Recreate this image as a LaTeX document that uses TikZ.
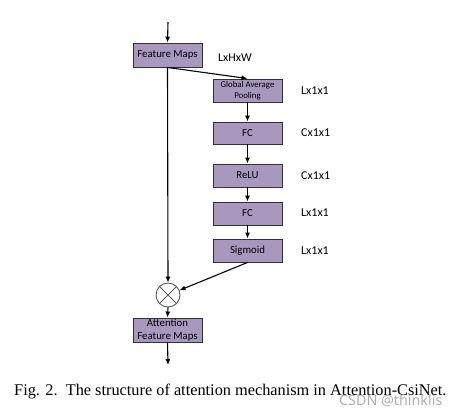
\documentclass[tikz,border=0pt]{standalone}
\usepackage{fontspec}
\setmainfont{Liberation Serif}
\newfontfamily\boxfont{Carlito}
\newfontfamily\wmfont{Noto Sans}
\usetikzlibrary{arrows.meta}
\definecolor{boxfill}{RGB}{168,152,192}
\definecolor{boxline}{RGB}{50,50,50}
\definecolor{circline}{RGB}{90,90,90}
\definecolor{wmgray}{RGB}{175,175,175}
\tikzset{
  blk/.style={draw=boxline, line width=0.9pt, fill=boxfill, minimum width=69pt, inner sep=0pt, align=center, font=\boxfont\fontsize{10.8}{11}\selectfont},
  smallblk/.style={blk, font=\boxfont\fontsize{8.8}{11.5}\selectfont},
  dimlbl/.style={font=\boxfont\fontsize{12}{14}\selectfont, anchor=west, inner sep=0pt},
  arr/.style={line width=1.1pt, -{Latex[length=6pt,width=5pt]}}
}
\begin{document}
\begin{tikzpicture}[x=1pt,y=-1pt]
\useasboundingbox (0,0) rectangle (458,418);
% boxes
\node[blk, minimum height=24pt] (fm) at (167.5,55) {Feature Maps};
\node[smallblk, minimum height=23pt] (gap) at (247.5,90.5) {Global Average\\Pooling};
\node[blk, minimum height=22pt] (fc1) at (247.5,133) {FC};
\node[blk, minimum height=23pt] (relu) at (247.5,175.5) {ReLU};
\node[blk, minimum height=23pt] (fc2) at (247.5,213.5) {FC};
\node[blk, minimum height=23pt] (sig) at (247.5,250.5) {Sigmoid};
\node[circle, draw=circline, line width=0.9pt, fill=white, minimum size=24pt, inner sep=0pt] (mul) at (168,295) {};
\draw[circline, line width=0.9pt] (mul.north east) -- (mul.south west) (mul.north west) -- (mul.south east);
\node[blk, minimum height=24pt, font=\boxfont\fontsize{10.8}{12.5}\selectfont] (afm) at (167.5,330) {Attention\\Feature Maps};
% labels
\node[dimlbl] (l0) at (218,58) {LxHxW};
\node[dimlbl] (l1) at (301,91) {Lx1x1};
\node[dimlbl] (l2) at (301,133) {Cx1x1};
\node[dimlbl] (l3) at (301,176) {Cx1x1};
\node[dimlbl] (l4) at (301,213) {Lx1x1};
\node[dimlbl] (l5) at (301,251) {Lx1x1};
% connectors
\coordinate (in) at (168,22);
\coordinate (out) at (168,365);
\draw[arr] (in) -- (fm.north);
\draw[arr] (fm.south) -- (gap.north);
\draw[arr] (gap) -- (fc1);
\draw[arr] (fc1) -- (relu);
\draw[arr] (relu) -- (fc2);
\draw[arr] (fc2) -- (sig);
\draw[arr] (fm.south) -- (mul.north);
\draw[arr] (sig.south) -- (mul);
\draw[arr] (mul.south) -- (afm.north);
\draw[arr] (afm.south) -- (out);
% caption
\node[font=\fontsize{16.3}{18}\selectfont, inner sep=0pt, anchor=base west] (cap) at (14,395) {Fig. 2.\ \ The structure of attention mechanism in Attention-CsiNet.};
\node[font=\wmfont\fontsize{14.3}{16}\selectfont, text=wmgray, inner sep=0pt, anchor=base west] (wm) at (339,405) {CSDN @thinklis};
\end{tikzpicture}
\end{document}
